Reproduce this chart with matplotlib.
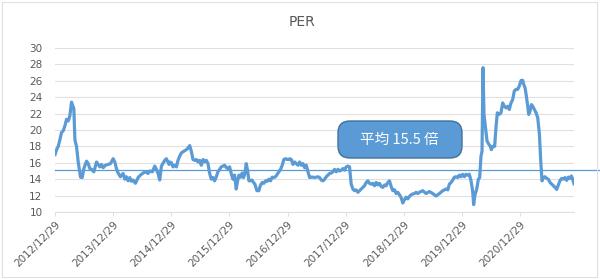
import matplotlib
matplotlib.use("Agg")
import matplotlib.pyplot as plt
import matplotlib.dates as mdates
import matplotlib.transforms as mtransforms
from matplotlib.patches import FancyBboxPatch, Rectangle
import pandas as pd

plt.rcParams['font.family'] = ['DejaVu Sans']

# PER readings (decimal year, value)
years = [
    2012.995, 2013.019, 2013.047, 2013.076, 2013.104, 2013.133, 2013.162, 2013.190, 2013.219, 2013.248,
    2013.276, 2013.305, 2013.316, 2013.334, 2013.362, 2013.391, 2013.431, 2013.460, 2013.488, 2013.534,
    2013.563, 2013.591, 2013.620, 2013.660, 2013.706, 2013.734, 2013.763, 2013.792, 2013.820, 2013.860,
    2013.906, 2013.946, 2013.992, 2014.021, 2014.049, 2014.078, 2014.118, 2014.164, 2014.193, 2014.221,
    2014.250, 2014.278, 2014.307, 2014.336, 2014.376, 2014.422, 2014.462, 2014.508, 2014.548, 2014.593,
    2014.622, 2014.668, 2014.708, 2014.737, 2014.765, 2014.794, 2014.823, 2014.880, 2014.908, 2014.954,
    2014.966, 2014.995, 2015.023, 2015.052, 2015.081, 2015.109, 2015.138, 2015.166, 2015.207, 2015.252,
    2015.281, 2015.310, 2015.338, 2015.367, 2015.396, 2015.424, 2015.453, 2015.481, 2015.510, 2015.539,
    2015.567, 2015.596, 2015.625, 2015.653, 2015.682, 2015.711, 2015.739, 2015.768, 2015.796, 2015.825,
    2015.854, 2015.882, 2015.911, 2015.940, 2015.968, 2015.997, 2016.025, 2016.054, 2016.083, 2016.111,
    2016.129, 2016.157, 2016.186, 2016.214, 2016.237, 2016.260, 2016.283, 2016.306, 2016.329, 2016.352,
    2016.381, 2016.409, 2016.432, 2016.467, 2016.501, 2016.524, 2016.558, 2016.587, 2016.615, 2016.644,
    2016.673, 2016.701, 2016.730, 2016.759, 2016.787, 2016.816, 2016.844, 2016.873, 2016.902, 2016.930,
    2016.959, 2016.988, 2017.016, 2017.028, 2017.057, 2017.085, 2017.114, 2017.143, 2017.171, 2017.200,
    2017.228, 2017.257, 2017.286, 2017.314, 2017.343, 2017.372, 2017.400, 2017.429, 2017.458, 2017.486,
    2017.515, 2017.543, 2017.572, 2017.601, 2017.629, 2017.658, 2017.687, 2017.715, 2017.744, 2017.772,
    2017.801, 2017.830, 2017.858, 2017.887, 2017.916, 2017.944, 2017.973, 2018.001, 2018.030, 2018.059,
    2018.087, 2018.116, 2018.145, 2018.173, 2018.202, 2018.231, 2018.259, 2018.288, 2018.317, 2018.345,
    2018.374, 2018.402, 2018.431, 2018.460, 2018.488, 2018.517, 2018.546, 2018.574, 2018.603, 2018.632,
    2018.660, 2018.689, 2018.717, 2018.746, 2018.775, 2018.803, 2018.832, 2018.861, 2018.889, 2018.918,
    2018.947, 2018.975, 2019.004, 2019.032, 2019.061, 2019.090, 2019.118, 2019.147, 2019.176, 2019.204,
    2019.233, 2019.261, 2019.319, 2019.376, 2019.434, 2019.491, 2019.548, 2019.605, 2019.663, 2019.720,
    2019.749, 2019.777, 2019.806, 2019.835, 2019.863, 2019.892, 2019.920, 2019.949, 2019.978, 2020.006,
    2020.035, 2020.064, 2020.092, 2020.121, 2020.150, 2020.178, 2020.195, 2020.218, 2020.247, 2020.276,
    2020.299, 2020.321, 2020.339, 2020.356, 2020.373, 2020.396, 2020.425, 2020.453, 2020.482, 2020.499,
    2020.522, 2020.556, 2020.579, 2020.602, 2020.636, 2020.665, 2020.694, 2020.722, 2020.751, 2020.780,
    2020.808, 2020.837, 2020.866, 2020.894, 2020.923, 2020.951, 2020.980, 2021.009, 2021.037, 2021.054,
    2021.077, 2021.095, 2021.123, 2021.140, 2021.163, 2021.186, 2021.209, 2021.238, 2021.266, 2021.295,
    2021.324, 2021.347, 2021.369, 2021.392, 2021.421, 2021.450, 2021.478, 2021.507, 2021.535, 2021.564,
    2021.593, 2021.621, 2021.650, 2021.679, 2021.707, 2021.736, 2021.765, 2021.793, 2021.822, 2021.851,
    2021.873, 2021.896, 2021.919,
]
per = [
    17.0, 17.6, 18.0, 18.8, 19.7, 19.9, 20.5, 21.3, 21.1, 21.75,
    23.4, 22.8, 22.6, 18.8, 18.0, 16.1, 14.25, 14.2, 15.3, 16.2,
    15.9, 15.3, 15.2, 14.9, 16.1, 15.8, 15.5, 15.8, 15.4, 15.7,
    15.8, 15.9, 16.5, 16.1, 15.3, 14.75, 14.3, 14.7, 14.0, 14.3,
    13.8, 14.2, 13.75, 13.9, 13.5, 14.2, 14.5, 14.75, 14.9, 14.7,
    15.0, 14.9, 15.6, 15.2, 14.7, 13.9, 15.6, 16.3, 16.5, 15.8,
    16.1, 16.0, 15.5, 15.7, 15.5, 16.3, 16.8, 17.2, 17.4, 17.6,
    17.8, 18.1, 17.4, 16.4, 16.3, 16.4, 16.1, 16.3, 15.7, 16.4,
    16.1, 16.3, 15.9, 14.7, 14.0, 14.2, 13.8, 14.3, 14.9, 15.2,
    15.5, 15.6, 15.7, 15.4, 15.3, 15.5, 14.7, 14.0, 14.5, 12.8,
    13.6, 14.5, 14.25, 14.75, 14.2, 14.7, 15.9, 15.1, 13.8, 13.8,
    13.9, 13.6, 13.4, 12.6, 12.6, 13.2, 13.6, 13.5, 13.8, 13.75,
    14.0, 13.8, 14.25, 14.2, 14.3, 14.6, 14.9, 15.2, 15.7, 16.4,
    16.5, 16.4, 16.4, 16.5, 16.4, 15.8, 16.1, 15.9, 15.7, 16.1,
    15.7, 15.9, 15.4, 15.7, 14.9, 14.2, 14.25, 14.25, 14.2, 14.25,
    14.3, 14.2, 13.9, 13.8, 14.0, 14.3, 14.5, 14.7, 14.75, 14.9,
    15.2, 14.9, 15.2, 15.0, 15.1, 15.3, 15.1, 15.5, 15.6, 15.5,
    13.4, 12.8, 12.6, 12.7, 12.4, 12.6, 12.8, 13.0, 13.2, 13.6,
    13.8, 13.5, 13.4, 13.5, 13.2, 13.6, 13.3, 13.5, 13.1, 13.0,
    13.3, 13.2, 13.6, 13.8, 13.1, 12.6, 12.7, 12.25, 12.4, 12.1,
    11.75, 11.1, 11.5, 11.8, 11.6, 11.9, 12.1, 12.2, 12.25, 12.4,
    12.25, 12.4, 12.6, 12.25, 12.5, 12.25, 11.95, 12.25, 12.6, 12.8,
    12.7, 13.4, 13.6, 13.9, 14.25, 14.3, 14.2, 14.5, 14.3, 14.6,
    14.3, 14.6, 14.5, 14.6, 13.8, 12.55, 10.9, 12.1, 12.75, 14.0,
    14.2, 16.8, 17.4, 27.6, 21.9, 20.5, 18.65, 18.3, 18.0, 17.6,
    18.0, 18.0, 20.3, 22.1, 21.9, 22.1, 23.3, 22.9, 22.7, 22.9,
    22.5, 23.3, 23.7, 24.75, 24.95, 24.95, 25.35, 26.05, 26.05, 25.55,
    25.15, 24.35, 22.9, 21.9, 22.3, 23.1, 22.9, 22.5, 22.1, 21.5,
    19.5, 16.2, 13.8, 14.2, 14.3, 14.1, 14.0, 13.6, 13.4, 13.2,
    13.0, 12.75, 13.3, 13.85, 14.1, 14.0, 14.2, 13.85, 14.25, 14.1,
    14.4, 14.0, 13.45,
]
avg_line = 15.12          # where the average line is drawn
avg_label = "平均 15.5 倍"
tick_years = list(range(2012, 2021))
y_ticks = [10, 12, 14, 16, 18, 20, 22, 24, 26, 28, 30]


def to_date(y):
    yr = int(y)
    return pd.Timestamp(year=yr, month=1, day=1) + pd.Timedelta(days=(y - yr) * 365.25)


dates = [to_date(y) for y in years]
tick_dates = [pd.Timestamp(year=y, month=12, day=29) for y in tick_years]

blue = "#5B9BD5"
grey = "#595959"
grid = "#E0E0E0"

fig = plt.figure(figsize=(6.0, 2.79), dpi=100)
ax = fig.add_axes([55 / 600, 1 - 212 / 279, 519 / 600, 164 / 279])

ax.plot(dates, per, color=blue, lw=2.3, solid_joinstyle="round", zorder=3)

ax.set_ylim(10, 30)
ax.set_yticks(y_ticks)
ax.set_xlim(tick_dates[0], dates[-1])
ax.set_xticks(tick_dates)
ax.xaxis.set_major_formatter(mdates.DateFormatter("%Y/%m/%d"))

ax.grid(axis="y", color=grid, lw=0.8)
ax.set_axisbelow(True)
for s in ["top", "right", "left"]:
    ax.spines[s].set_visible(False)
ax.spines["bottom"].set_color(grid)
ax.spines["bottom"].set_linewidth(0.8)

ax.tick_params(axis="y", length=0, pad=9, labelsize=7.5, labelcolor=grey)
ax.tick_params(axis="x", length=3, color=grid, pad=2, labelsize=7.5, labelcolor=grey)
for lbl in ax.get_xticklabels():
    lbl.set_rotation(45)
    lbl.set_ha("right")
    lbl.set_va("top")
    lbl.set_rotation_mode("anchor")

# average line runs from the plot's left edge to the image edge
trans = mtransforms.blended_transform_factory(fig.transFigure, ax.transData)
ax.plot([55 / 600, 1.0], [avg_line, avg_line], color=blue, lw=0.9,
        transform=trans, clip_on=False, zorder=2)

fig.text(0.503, 1 - 22 / 279, "PER", ha="center", va="center", fontsize=10, color=grey)

# callout box
box = FancyBboxPatch((338 / 600, 1 - 158 / 279), 124 / 600, 37 / 279,
                     boxstyle="round,pad=0,rounding_size=0.02",
                     transform=fig.transFigure, facecolor=blue, edgecolor="#41719C",
                     lw=1.0, zorder=5, mutation_aspect=600 / 279)
fig.patches.append(box)
fig.text(399 / 600, 1 - 140 / 279, avg_label, ha="center", va="center",
         fontsize=10.5, color="white", zorder=6,
         family=["Noto Sans CJK JP", "DejaVu Sans"])

# chart frame
fig.patches.append(Rectangle((2 / 600, 2 / 279), 595 / 600, 275 / 279,
                             transform=fig.transFigure, fill=False,
                             edgecolor=grid, lw=0.8))

fig.savefig("out.png", dpi=100)
